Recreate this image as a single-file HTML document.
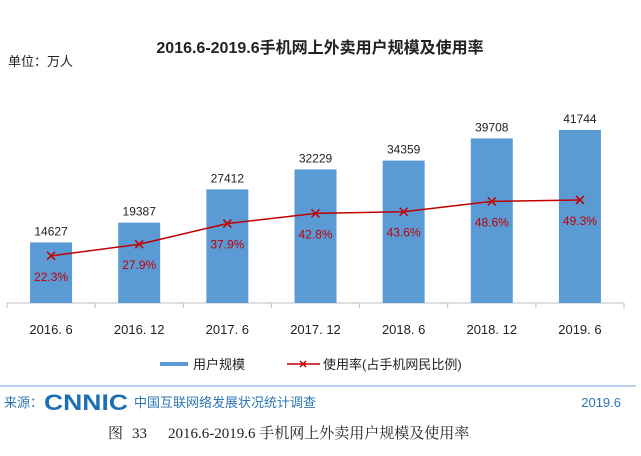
<!DOCTYPE html>
<html><head><meta charset="utf-8"><style>
body{margin:0;background:#fff;}
text{font-family:"Liberation Sans","Noto Sans CJK SC",sans-serif;}
</style></head><body>
<svg width="641" height="451" viewBox="0 0 641 451">
<text x="320" y="53" text-anchor="middle" font-size="16" font-weight="bold" fill="#222">2016.6-2019.6手机网上外卖用户规模及使用率</text>
<text x="8" y="66" font-size="13" fill="#222">单位：万人</text>
<g id="plot"></g>
<g>
<rect x="160" y="362" width="28" height="4" fill="#5b9bd5"/>
<text x="193" y="369" font-size="13" fill="#222">用户规模</text>
<line x1="287" y1="364" x2="320" y2="364" stroke="#c00000" stroke-width="1.5"/>
<path d="M300,361L306,367M300,367L306,361" stroke="#c00000" stroke-width="1.5"/>
<text x="323" y="369" font-size="13" fill="#222">使用率(占手机网民比例)</text>
</g>
<line x1="0" y1="386" x2="636" y2="386" stroke="#9dc3e6" stroke-width="1.5"/>
<text x="4" y="407" font-size="13" fill="#2e75b6">来源：</text>
<text x="44" y="410" font-size="22" font-weight="bold" fill="#1f6fb5" textLength="84" lengthAdjust="spacingAndGlyphs">CNNIC</text>
<text x="134" y="407" font-size="13" fill="#2e75b6">中国互联网络发展状况统计调查</text>
<text x="621" y="407" text-anchor="end" font-size="13" fill="#2e75b6">2019.6</text>
<g style="font-family:'Liberation Serif','Noto Serif CJK SC',serif">
<text x="108" y="438" font-size="15" fill="#222" style="font-family:'Liberation Serif','Noto Serif CJK SC',serif">图</text>
<text x="132" y="438" font-size="15" fill="#222" style="font-family:'Liberation Serif','Noto Serif CJK SC',serif">33</text>
<text x="168" y="438" font-size="15" fill="#222" style="font-family:'Liberation Serif','Noto Serif CJK SC',serif">2016.6-2019.6 手机网上外卖用户规模及使用率</text>
</g>
</svg>
<script>
const categories=["2016. 6","2016. 12","2017. 6","2017. 12","2018. 6","2018. 12","2019. 6"];
const users=[14627,19387,27412,32229,34359,39708,41744];
const rates=[22.3,27.9,37.9,42.8,43.6,48.6,49.3];
const ns="http://www.w3.org/2000/svg";
const g=document.getElementById("plot");
const left=7,right=624,base=303,catW=(right-left)/categories.length;
const yBar=v=>base-v*173/41744;
const yRate=v=>302-v*2.07;
const xC=i=>left+catW*(i+0.5);
function mk(t,a){const e=document.createElementNS(ns,t);for(const k in a)e.setAttribute(k,a[k]);g.appendChild(e);return e;}
const ax=mk("line",{x1:left,y1:base,x2:right,y2:base,stroke:"#bfbfbf"});


for(let i=0;i<=categories.length;i++){const t=mk("line",{x1:left+catW*i,y1:base,x2:left+catW*i,y2:base+5,stroke:"#bfbfbf"});

}
categories.forEach((c,i)=>{
const b=mk("rect",{x:xC(i)-21,y:yBar(users[i]),width:42,height:base-yBar(users[i]),fill:"#5b9bd5"});


const v=mk("text",{x:xC(i),y:yBar(users[i])-7,"text-anchor":"middle","font-size":"12",fill:"#222"});v.textContent=users[i];


const l=mk("text",{x:xC(i),y:334,"text-anchor":"middle","font-size":"13",fill:"#222"});l.textContent=c;


});
const pl=mk("polyline",{points:rates.map((r,i)=>xC(i)+","+yRate(r)).join(" "),fill:"none",stroke:"#c00000","stroke-width":"1.5"});


rates.forEach((r,i)=>{
const x=xC(i),y=yRate(r);
const m=mk("path",{d:`M${x-4},${y-4}L${x+4},${y+4}M${x-4},${y+4}L${x+4},${y-4}`,stroke:"#c00000","stroke-width":"1.5"});


const t=mk("text",{x:x,y:y+25,"text-anchor":"middle","font-size":"12",fill:"#c00000"});t.textContent=r.toFixed(1)+"%";


});
</script>
</body></html>
